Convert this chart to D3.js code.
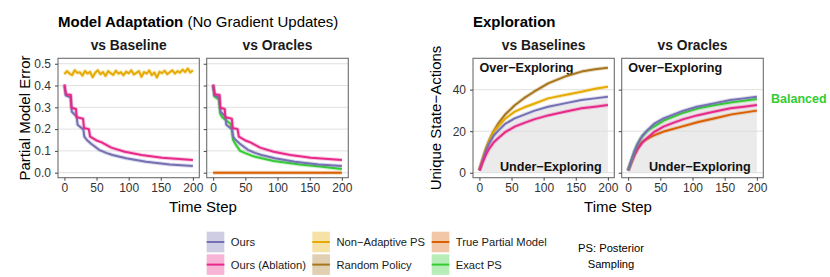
<!DOCTYPE html>
<html>
<head>
<meta charset="utf-8">
<title>model adaptation / exploration</title>
<style>
body { margin: 0; background: #fff; }
svg { font-family: "Liberation Sans", Arial, Helvetica, sans-serif; }
.axis text { fill: #333; font-size: 12px; }
.axis line { stroke: #444; }
.axis path { display: none; }
</style>
</head>
<body>
<svg width="830" height="277"></svg>
<script src="https://d3js.org/d3.v7.min.js"></script>
<script>

// ---- data: partial model error (left) ----
var errOursT     = [0, 2, 9.5, 11.5, 19, 20.5, 29.5, 31, 35, 42, 54, 65, 75, 96, 127, 164, 200];
var errOurs      = [0.40, 0.355, 0.345, 0.28, 0.258, 0.22, 0.198, 0.165, 0.15, 0.132, 0.105, 0.091, 0.081, 0.066, 0.05, 0.038, 0.031];
var errAblT      = [0, 2.5, 10, 11, 18, 19, 29, 30.5, 38, 40, 46, 50, 58, 73, 94, 120, 152, 200];
var errAbl       = [0.405, 0.36, 0.357, 0.298, 0.292, 0.255, 0.248, 0.205, 0.2, 0.165, 0.155, 0.148, 0.139, 0.115, 0.096, 0.081, 0.069, 0.058];
var errExactT    = [0, 2, 9, 11, 14, 27, 29, 31, 36, 42, 50, 63, 94, 135, 166, 200];
var errExact     = [0.40, 0.35, 0.335, 0.27, 0.255, 0.225, 0.2, 0.15, 0.125, 0.1, 0.09, 0.075, 0.054, 0.038, 0.028, 0.017];
var errTrueT     = [0, 200];
var errTrue      = [0, 0];
var errNonAdaptT = [0, 4, 8, 12, 16, 20, 24, 28, 32, 36, 40, 44, 48, 52, 56, 60, 64, 68, 72, 76, 80,
                    84, 88, 92, 96, 100, 104, 108, 112, 116, 120, 124, 128, 132, 136, 140, 144, 148,
                    152, 156, 160, 164, 168, 172, 176, 180, 184, 188, 192, 196, 200];
var errNonAdapt  = [0.452, 0.466, 0.455, 0.448, 0.470, 0.458, 0.461, 0.446, 0.467, 0.455,
                    0.463, 0.438, 0.459, 0.470, 0.452, 0.462, 0.444, 0.466, 0.457, 0.449,
                    0.468, 0.455, 0.461, 0.447, 0.464, 0.456, 0.470, 0.451, 0.458, 0.466,
                    0.440, 0.462, 0.455, 0.469, 0.448, 0.460, 0.437, 0.463, 0.457, 0.468,
                    0.452, 0.461, 0.470, 0.455, 0.466, 0.459, 0.473, 0.462, 0.478, 0.460, 0.470];

// ---- data: unique state-actions (right) ----
var expT         = [0, 5, 10, 15, 22, 30, 40, 55, 70, 85, 107, 133, 159, 180, 200];
var expRandom    = [1.2, 6.5, 11.5, 15.5, 20, 24, 28, 32.5, 36, 39, 43, 46.3, 48.7, 49.8, 50.6];
var expNonAdapt  = [1.2, 6.3, 11, 14.8, 19.5, 22.5, 26, 29.4, 31.5, 33.2, 35.8, 37.4, 39, 40.4, 41.4];
var expOurs      = [1.2, 6, 10.5, 14, 17.8, 20.5, 23.5, 26.2, 28, 29.8, 31.8, 33.4, 35, 35.8, 36.6];
var expAbl       = [1, 5, 8.5, 11.5, 14.5, 16.8, 19.5, 22.2, 24, 25.7, 27.6, 29.4, 31, 31.8, 32.6];
var expExactT    = [0, 5, 10, 14, 20, 31.5, 57, 83, 109, 135, 161, 200];
var expExact     = [1.2, 6, 10.5, 13.5, 16.8, 20.6, 25.4, 28.6, 31, 32.6, 33.9, 35.5];
var expTrueT     = [0, 5, 10, 15, 20, 25, 31.5, 40, 57, 83, 109, 135, 161, 200];
var expTrue      = [1, 5, 9, 12, 14.2, 15.5, 16.6, 18, 20, 22.2, 24.4, 26.2, 28.1, 29.9];

var errTicks = [0, 0.1, 0.2, 0.3, 0.4, 0.5];
var expTicks = [0, 20, 40];
var timeTicks = [0, 50, 100, 150, 200];

var legendCols = [["Ours", "Ours (Ablation)"], ["Non\u2212Adaptive PS", "Random Policy"], ["True Partial Model", "Exact PS"]];
var legendKeys = [["ours", "ablation"], ["nonadaptive", "random"], ["truemodel", "exact"]];

var color = {
  ours: "#7570b3", ablation: "#e7298a", nonadaptive: "#e6ab02",
  random: "#a6761d", truemodel: "#d95f02", exact: "#33cc33"
};

var errSeries = {
  ours: d3.zip(errOursT, errOurs), ablation: d3.zip(errAblT, errAbl),
  exact: d3.zip(errExactT, errExact), truemodel: d3.zip(errTrueT, errTrue),
  nonadaptive: d3.zip(errNonAdaptT, errNonAdapt)
};
var expSeries = {
  ours: d3.zip(expT, expOurs), ablation: d3.zip(expT, expAbl),
  nonadaptive: d3.zip(expT, expNonAdapt), random: d3.zip(expT, expRandom),
  exact: d3.zip(expExactT, expExact), truemodel: d3.zip(expTrueT, expTrue)
};

var svg = d3.select("svg");
var panelTop = 58.3, panelBottom = 177.7;

var yErr = d3.scaleLinear().domain([-0.023, 0.525]).range([panelBottom, panelTop]);
var yExp = d3.scaleLinear().domain([-2.4, 55.1]).range([panelBottom, panelTop]);

var panels = [
  {x0: 58,    x1: 199.3, y: yErr, ticks: errTicks, fmt: d3.format(".1f"), strip: "vs Baseline",  data: errSeries, keys: ["nonadaptive", "ours", "ablation"], labels: true},
  {x0: 206.7, x1: 348.3, y: yErr, ticks: errTicks, fmt: d3.format(".1f"), strip: "vs Oracles",   data: errSeries, keys: ["truemodel", "exact", "ours", "ablation"], labels: false},
  {x0: 473,   x1: 614.3, y: yExp, ticks: expTicks, fmt: d3.format("d"),   strip: "vs Baselines", data: expSeries, keys: ["random", "nonadaptive", "ours", "ablation"], labels: true, band: true},
  {x0: 621.7, x1: 763.3, y: yExp, ticks: expTicks, fmt: d3.format("d"),   strip: "vs Oracles",   data: expSeries, keys: ["truemodel", "ablation", "exact", "ours"], labels: false, band: true}
];

panels.forEach(function(p) {
  var x = d3.scaleLinear().domain([-10, 210]).range([p.x0, p.x1]);
  var y = p.y;
  var g = svg.append("g");

  g.append("rect")
      .attr("x", p.x0).attr("y", panelTop)
      .attr("width", p.x1 - p.x0).attr("height", panelBottom - panelTop)
      .attr("fill", "#fff");

  if (p.band) {
    g.append("path")
        .datum(expSeries.exact)
        .attr("fill", "#ebebeb")
        .attr("d", d3.area()
          .x(function(d) { return x(d[0]); })
          .y0(y(0))
          .y1(function(d) { return y(d[1]); }));
  }

  g.selectAll(".grid")
    .data(p.ticks)
    .enter().append("line")
      .attr("x1", p.x0).attr("x2", p.x1)
      .attr("y1", function(d) { return y(d); })
      .attr("y2", function(d) { return y(d); })
      .attr("stroke", "#dcdcdc")
      .attr("stroke-width", 0.9);

  if (p.band) {
    g.append("text")
        .attr("x", x(0)).attr("y", y(48.3))
        .attr("font-size", 12.6).attr("font-weight", "bold").attr("fill", "#111")
        .text("Over\u2212Exploring");
    g.append("text")
        .attr("x", x(190.5)).attr("y", y(1))
        .attr("text-anchor", "end")
        .attr("font-size", 12.6).attr("font-weight", "bold").attr("fill", "#111")
        .text("Under\u2212Exploring");
  }

  var line = d3.line()
      .x(function(d) { return x(d[0]); })
      .y(function(d) { return y(d[1]); });

  p.keys.forEach(function(k) {
    g.append("path")
        .datum(p.data[k])
        .attr("fill", "none")
        .attr("stroke", color[k])
        .attr("stroke-opacity", 0.25)
        .attr("stroke-width", 4)
        .attr("stroke-linejoin", "round")
        .attr("d", line);
    g.append("path")
        .datum(p.data[k])
        .attr("fill", "none")
        .attr("stroke", color[k])
        .attr("stroke-width", 2)
        .attr("stroke-linejoin", "round")
        .attr("d", line);
  });

  g.append("rect")
      .attr("x", p.x0).attr("y", panelTop)
      .attr("width", p.x1 - p.x0).attr("height", panelBottom - panelTop)
      .attr("fill", "none")
      .attr("stroke", "#6e6e6e")
      .attr("stroke-width", 1.1);

  g.append("g")
      .attr("class", "axis")
      .attr("transform", "translate(" + p.x0 + ",0)")
      .call(d3.axisLeft(y).tickValues(p.ticks).tickSize(3).tickPadding(4)
        .tickFormat(p.labels ? p.fmt : function() { return ""; }));

  g.append("g")
      .attr("class", "axis")
      .attr("transform", "translate(0," + panelBottom + ")")
      .call(d3.axisBottom(x).tickValues(timeTicks).tickSize(3).tickPadding(3));

  g.append("text")
      .attr("x", (p.x0 + p.x1) / 2).attr("y", 50)
      .attr("text-anchor", "middle")
      .attr("font-size", 13.8).attr("font-weight", "bold").attr("fill", "#1a1a1a")
      .text(p.strip);
});

// titles
var t1 = svg.append("text").attr("x", 58).attr("y", 27).attr("font-size", 15).attr("fill", "#000");
t1.append("tspan").attr("font-weight", "bold").text("Model Adaptation");
t1.append("tspan").text(" (No Gradient Updates)");

svg.append("text").attr("x", 473).attr("y", 27)
    .attr("font-size", 15).attr("font-weight", "bold").attr("fill", "#000")
    .text("Exploration");

svg.append("text")
    .attr("transform", "translate(29.5,118) rotate(-90)")
    .attr("text-anchor", "middle").attr("font-size", 15)
    .text("Partial Model Error");

svg.append("text")
    .attr("transform", "translate(441,118) rotate(-90)")
    .attr("text-anchor", "middle").attr("font-size", 15)
    .text("Unique State\u2212Actions");

svg.append("text").attr("x", 203).attr("y", 211.5)
    .attr("text-anchor", "middle").attr("font-size", 15).text("Time Step");
svg.append("text").attr("x", 618).attr("y", 211.5)
    .attr("text-anchor", "middle").attr("font-size", 15).text("Time Step");

svg.append("text").attr("x", 771).attr("y", 103)
    .attr("font-size", 12.5).attr("font-weight", "bold").attr("fill", color.exact)
    .text("Balanced");

// legend
var colX = [206.7, 312.3, 431.7], rowY = [231.7, 254.3], kw = 17.6, kh = 20.6;
legendCols.forEach(function(col, ci) {
  col.forEach(function(label, ri) {
    var k = legendKeys[ci][ri];
    var lg = svg.append("g").attr("transform", "translate(" + colX[ci] + "," + rowY[ri] + ")");
    lg.append("rect").attr("width", kw).attr("height", kh)
        .attr("fill", color[k]).attr("fill-opacity", 0.35);
    lg.append("line").attr("x1", 0).attr("x2", kw).attr("y1", kh / 2).attr("y2", kh / 2)
        .attr("stroke", color[k]).attr("stroke-width", 2);
    lg.append("text").attr("x", kw + 6.5).attr("y", kh / 2 + 4)
        .attr("font-size", 11.2).attr("fill", "#1a1a1a").text(label);
  });
});

svg.append("text").attr("x", 611).attr("y", 251.5)
    .attr("text-anchor", "middle").attr("font-size", 11.2).text("PS: Posterior");
svg.append("text").attr("x", 611).attr("y", 267.5)
    .attr("text-anchor", "middle").attr("font-size", 11.2).text("Sampling");

</script>
</body>
</html>
